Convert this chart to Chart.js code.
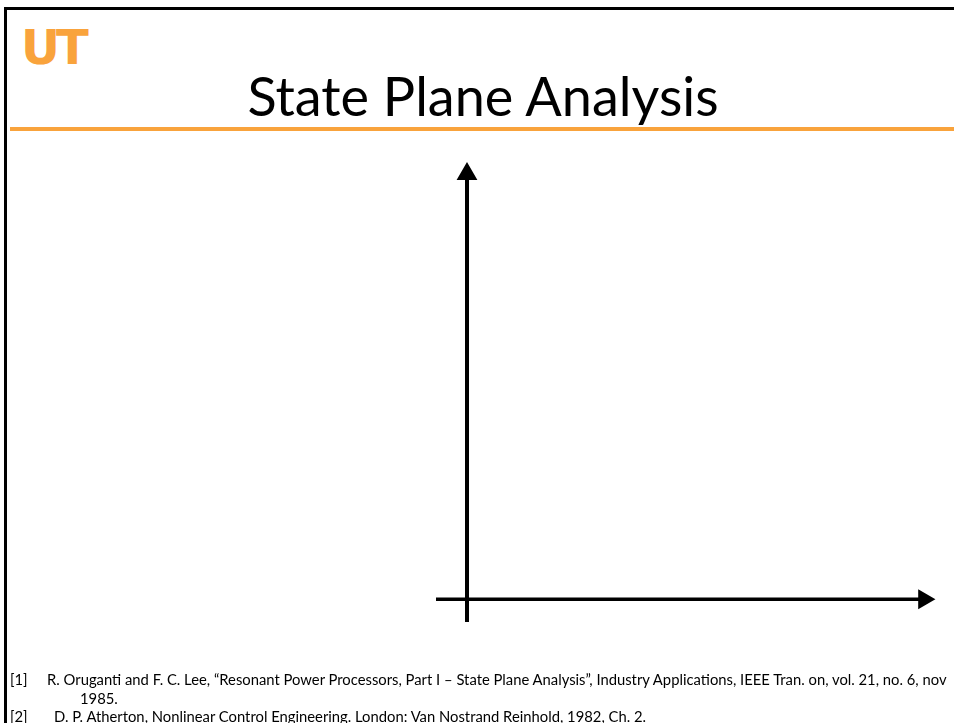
<!DOCTYPE html>
<html>
<head>
<meta charset="utf-8">
<script src="https://cdn.jsdelivr.net/npm/chart.js@4.4.0/dist/chart.umd.min.js"></script>
<style>
  html, body { margin: 0; padding: 0; background: #fff; }
  #slide { position: relative; width: 954px; height: 723px; overflow: hidden; font-family: Lato, "Open Sans", sans-serif; }
  #frameTop { position: absolute; left: 4px; top: 7px; width: 950px; height: 3px; background: #000; }
  #frameLeft { position: absolute; left: 4px; top: 7px; width: 3px; height: 716px; background: #000; }
  #logo { position: absolute; left: 21px; top: 19px; font-family: "DejaVu Sans", sans-serif; font-weight: bold; font-size: 48px; color: #F9A33C; letter-spacing: -4px; }
  #title { position: absolute; left: 0; width: 966px; top: 63px; text-align: center; font-size: 54px; color: #000; }
  #rule { position: absolute; left: 10px; top: 127px; width: 944px; height: 4px; background: #F9A33C; }
  #chart { position: absolute; left: 0; top: 0; }
  .ref { position: absolute; font-size: 14.8px; color: #000; white-space: nowrap; }
</style>
</head>
<body>
<div id="slide">
  <div id="frameTop"></div>
  <div id="frameLeft"></div>
  <div id="logo">UT</div>
  <div id="title">State Plane Analysis</div>
  <div id="rule"></div>
  <canvas id="chart" width="954" height="723"></canvas>
  <div class="ref" style="left:10px; top:670px;">[1]</div>
  <div class="ref" style="left:47px; top:670px;">R. Oruganti and F. C. Lee, “Resonant Power Processors, Part I – State Plane Analysis”, Industry Applications, IEEE Tran. on, vol. 21, no. 6, nov</div>
  <div class="ref" style="left:80px; top:689px;">1985.</div>
  <div class="ref" style="left:10px; top:707px;">[2]</div>
  <div class="ref" style="left:54px; top:707px;">D. P. Atherton, Nonlinear Control Engineering. London: Van Nostrand Reinhold, 1982, Ch. 2.</div>
</div>
<script>
// state plane axes, in data units
const xRange = [-1, 15];
const yRange = [-1, 19];
const horizontalAxis = [{ x: -1, y: 0 }, { x: 14.74, y: 0 }];
const verticalAxis = [{ x: 0, y: -1 }, { x: 0, y: 18.65 }];

new Chart('chart', {
    type: 'scatter',
    data: {
        datasets: [
            {
                data: horizontalAxis,
                showLine: true,
                borderColor: '#000',
                backgroundColor: '#000',
                borderWidth: 3.5,
                pointStyle: 'triangle',
                pointRotation: 90,
                pointRadius: [0, 8],
                clip: false
            },
            {
                data: verticalAxis,
                showLine: true,
                borderColor: '#000',
                backgroundColor: '#000',
                borderWidth: 4,
                pointStyle: 'triangle',
                pointRotation: 0,
                pointRadius: [0, 8],
                clip: false
            }
        ]
    },
    options: {
        responsive: false,
        animation: false,
        events: [],
        layout: { padding: { left: 436, right: 22, top: 166, bottom: 101 } },
        plugins: { legend: { display: false }, tooltip: { enabled: false } },
        scales: {
            x: { type: 'linear', min: xRange[0], max: xRange[1], display: false },
            y: { type: 'linear', min: yRange[0], max: yRange[1], display: false }
        }
    }
});
</script>
</body>
</html>
